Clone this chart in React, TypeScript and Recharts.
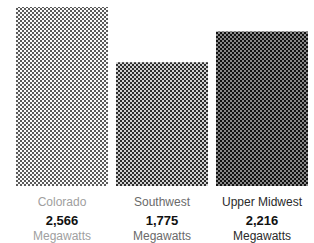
import { BarChart, Bar, XAxis, YAxis, Cell } from "recharts";

const regions = ["Colorado", "Southwest", "Upper Midwest"];
const megawatts = [2566, 1775, 2216];
const valueLabels = ["2,566", "1,775", "2,216"];

const data = regions.map((name, i) => ({ name, mw: megawatts[i] }));

// checkerboard fills, light -> dark
const patterns = [
  { id: "dotLight", a: "#5a5a5a", b: "#fafafa", text: "#a0a0a0" },
  { id: "dotMid", a: "#2c2c2c", b: "#d0d0d0", text: "#6a6a6a" },
  { id: "dotDark", a: "#111", b: "#888", text: "#2a2a2a" },
];

const RegionTick = (props: any) => {
  const { x, y, index } = props;
  const p = patterns[index];
  return (
    <g fontFamily="'Liberation Sans', Arial, sans-serif" textAnchor="middle">
      <text x={x} y={y + 20} fontSize={12} fill={p.text}>
        {regions[index]}
      </text>
      <text x={x} y={y + 39} fontSize={13} fontWeight="bold" fill="#111">
        {valueLabels[index]}
      </text>
      <text x={x} y={y + 54} fontSize={12} fill={p.text}>
        Megawatts
      </text>
    </g>
  );
};

export default function App() {
  return (
    <div style={{ position: "absolute", left: 0, top: 0, background: "#fff" }}>
      <BarChart
        width={314}
        height={243}
        data={data}
        margin={{ top: 7, right: 2, bottom: 0, left: 12 }}
        barCategoryGap={4}
      >
        <defs>
          {patterns.map((p) => (
            <pattern
              key={p.id}
              id={p.id}
              width={4}
              height={4}
              patternUnits="userSpaceOnUse"
            >
              <rect width={4} height={4} fill={p.b} />
              <rect width={2} height={2} fill={p.a} />
              <rect x={2} y={2} width={2} height={2} fill={p.a} />
            </pattern>
          ))}
        </defs>
        <XAxis
          dataKey="name"
          axisLine={false}
          tickLine={false}
          tickSize={0}
          tickMargin={0}
          height={57}
          interval={0}
          tick={<RegionTick />}
        />
        <YAxis hide domain={[0, 2566]} />
        <Bar dataKey="mw" isAnimationActive={false}>
          {data.map((d, i) => (
            <Cell key={d.name} fill={`url(#${patterns[i].id})`} />
          ))}
        </Bar>
      </BarChart>
    </div>
  );
}
